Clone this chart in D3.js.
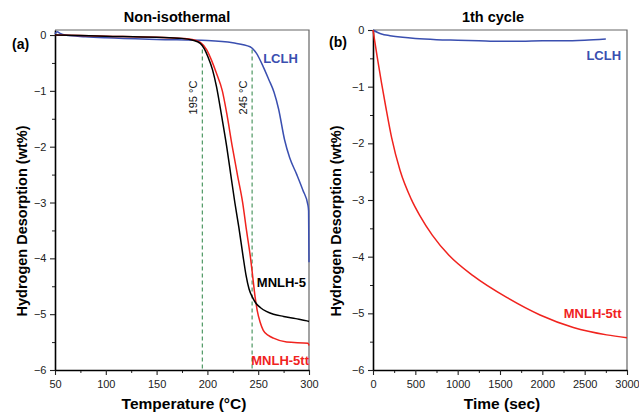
<!DOCTYPE html>
<html>
   <head>
      <script src="https://d3js.org/d3.v7.min.js"></script>
   </head>
   <style>
      body { margin: 0; background: #fff; }
      text { font-family: Arial, 'Liberation Sans', sans-serif; }
   </style>
   <body>
      <script>
         // Panel (a): non-isothermal desorption vs temperature
         let tempLCLH = [50, 52, 55, 60, 80, 100, 150, 200, 225, 242, 248, 255, 260.5, 265.5, 270, 276, 281, 288, 294, 299, 299.6, 300];
         let valLCLH = [0.02, 0.06, 0.03, 0, -0.03, -0.05, -0.08, -0.1, -0.14, -0.21, -0.32, -0.57, -0.8, -1.02, -1.32, -1.88, -2.2, -2.5, -2.78, -3.05, -3.15, -4.07];
         let tempMNLH5 = [50, 100, 150, 175, 185, 193, 197, 200.5, 205, 209, 214, 219, 223, 227, 231, 235, 238, 241, 245, 248, 252, 258, 265, 275, 287, 298, 300];
         let valMNLH5 = [0, -0.02, -0.04, -0.06, -0.09, -0.15, -0.25, -0.39, -0.62, -0.93, -1.45, -2.0, -2.5, -3.0, -3.45, -3.95, -4.3, -4.55, -4.72, -4.81, -4.88, -4.95, -5.0, -5.04, -5.08, -5.12, -5.13];
         let tempMNLH5tt = [50, 100, 150, 175, 185, 193, 199.5, 204, 209, 214.7, 219, 224.5, 229.5, 234.7, 238.5, 242.5, 245, 247, 249, 252, 255, 260, 265, 278, 299, 300];
         let valMNLH5tt = [0, -0.02, -0.04, -0.06, -0.08, -0.13, -0.27, -0.45, -0.69, -1.0, -1.4, -2.0, -2.5, -3.0, -3.5, -4.0, -4.39, -4.7, -4.93, -5.15, -5.29, -5.38, -5.43, -5.5, -5.52, -5.56];
         let dashTemps = [195, 244];
         let dashLabels = ['195 °C', '245 °C'];

         // Panel (b): 1th cycle desorption vs time
         let timeLCLH = [0, 50, 100, 200, 350, 500, 750, 1000, 1250, 1500, 1750, 2000, 2250, 2500, 2750];
         let cycLCLH = [0, -0.04, -0.07, -0.1, -0.13, -0.15, -0.17, -0.18, -0.19, -0.2, -0.2, -0.19, -0.19, -0.18, -0.16];
         let timeMNLH5tt = [0, 50, 100, 150, 220, 320, 450, 555, 700, 900, 1185, 1579, 1973, 2366, 2760, 3000];
         let cycMNLH5tt = [0, -0.48, -0.93, -1.35, -1.9, -2.48, -2.98, -3.28, -3.62, -3.98, -4.34, -4.72, -5.03, -5.25, -5.38, -5.43];

         let xTicksA = [50, 100, 150, 200, 250, 300];
         let xTicksB = [0, 500, 1000, 1500, 2000, 2500, 3000];
         let yTicks = [0, -1, -2, -3, -4, -5, -6];

         let [width, height] = [639, 415];
         let blue = '#3a4fb0', red = '#f0231e';

         let svg = d3.select('body').append('svg').attr('width', width).attr('height', height);

         function panel(opt) {
            let x = d3.scaleLinear().domain(opt.xDomain).range([opt.left, opt.right]);
            let y = d3.scaleLinear().domain(opt.yDomain).range([370, 30]);
            let g = svg.append('g');

            // top / right frame
            g.append('path')
               .attr('d', `M${opt.left},30H${opt.right}V370`)
               .attr('fill', 'none').attr('stroke', '#666').attr('stroke-width', 1.2);

            // minor ticks
            let xMinor = opt.xTicks.slice(0, -1).map((d, i) => (d + opt.xTicks[i + 1]) / 2);
            let yMinor = yTicks.slice(0, -1).map((d, i) => (d + yTicks[i + 1]) / 2);
            g.append('g').attr('transform', 'translate(0,370)')
               .call(d3.axisBottom(x).tickValues(xMinor).tickSize(3).tickFormat(''))
               .call(a => a.select('.domain').remove());
            g.append('g').attr('transform', `translate(${opt.left},0)`)
               .call(d3.axisLeft(y).tickValues(yMinor).tickSize(3).tickFormat(''))
               .call(a => a.select('.domain').remove());

            let xa = g.append('g').attr('transform', 'translate(0,370)')
               .call(d3.axisBottom(x).tickValues(opt.xTicks).tickSize(5).tickSizeOuter(0).tickFormat(d3.format('d')));
            let ya = g.append('g').attr('transform', `translate(${opt.left},0)`)
               .call(d3.axisLeft(y).tickValues(yTicks).tickSize(5).tickSizeOuter(0).tickFormat(d3.format('d')));
            [xa, ya].forEach(a => {
               a.select('.domain').attr('stroke-width', 1.6);
               a.selectAll('.tick line').attr('stroke-width', 1.1);
               a.selectAll('.tick text').style('font-size', '11px').attr('fill', '#222');
            });
            xa.selectAll('.tick text').attr('dy', '0.95em');
            ya.selectAll('.tick text').attr('dx', '-0.05em');
            g.selectAll('.tick line').attr('stroke', '#222');

            g.append('text').text(opt.title)
               .attr('x', opt.titleX).attr('y', 22)
               .attr('text-anchor', 'middle').style('font-size', '14.5px').style('font-weight', 'bold');
            g.append('text').text(opt.tag)
               .attr('x', opt.tagX).attr('y', opt.tagY)
               .style('font-size', '14px').style('font-weight', 'bold');
            g.append('text').text(opt.xLabel)
               .attr('x', (opt.left + opt.right) / 2 + 2).attr('y', 409)
               .attr('text-anchor', 'middle').style('font-size', '15.5px').style('font-weight', 'bold');
            g.append('text').text('Hydrogen Desorption (wt%)')
               .attr('transform', `translate(${opt.yLabelX},221) rotate(-90)`)
               .attr('text-anchor', 'middle').style('font-size', '14.5px').style('font-weight', 'bold');

            return { x, y, g };
         }

         function curve(p, xs, ys, color) {
            let line = d3.line().x(d => p.x(d[0])).y(d => p.y(d[1])).curve(d3.curveMonotoneX);
            p.g.append('path')
               .datum(xs.map((d, i) => [d, ys[i]]))
               .attr('d', line)
               .attr('fill', 'none').attr('stroke', color).attr('stroke-width', 1.5);
         }

         function label(p, txt, xv, yv, color) {
            p.g.append('text').text(txt)
               .attr('x', p.x(xv)).attr('y', p.y(yv))
               .attr('text-anchor', 'end').attr('fill', color)
               .style('font-size', '13px').style('font-weight', 'bold');
         }

         // (a)
         let pa = panel({ xDomain: [50, 300], yDomain: [-6, 0.09], left: 55, right: 309, xTicks: xTicksA,
            title: 'Non-isothermal', titleX: 177, tag: '(a)', tagX: 12, tagY: 49, xLabel: 'Temperature (°C)', yLabelX: 27 });

         dashTemps.forEach((t, i) => {
            pa.g.append('line')
               .attr('x1', pa.x(t)).attr('x2', pa.x(t))
               .attr('y1', pa.y(-0.26)).attr('y2', pa.y(-6))
               .attr('stroke', '#3f8f55').attr('stroke-width', 1.1).attr('stroke-dasharray', '4,3');
            pa.g.append('text').text(dashLabels[i])
               .attr('transform', `translate(${pa.x(t) - 5.5},${pa.y(-1.12)}) rotate(-90)`)
               .attr('text-anchor', 'middle')
               .style('font-size', '11px').attr('fill', '#111');
         });

         curve(pa, tempLCLH, valLCLH, blue);
         curve(pa, tempMNLH5tt, valMNLH5tt, red);
         curve(pa, tempMNLH5, valMNLH5, '#000');
         label(pa, 'LCLH', 289, -0.5, blue);
         label(pa, 'MNLH-5', 297, -4.51, '#000');
         label(pa, 'MNLH-5tt', 300, -5.91, red);

         // (b)
         let pb = panel({ xDomain: [0, 3000], yDomain: [-6, 0], left: 373, right: 627, xTicks: xTicksB,
            title: '1th cycle', titleX: 493, tag: '(b)', tagX: 329, tagY: 47, xLabel: 'Time (sec)', yLabelX: 341 });

         curve(pb, timeLCLH, cycLCLH, blue);
         curve(pb, timeMNLH5tt, cycMNLH5tt, red);
         label(pb, 'LCLH', 2930, -0.53, blue);
         label(pb, 'MNLH-5tt', 2935, -5.08, red);
      </script>
   </body>
</html>
